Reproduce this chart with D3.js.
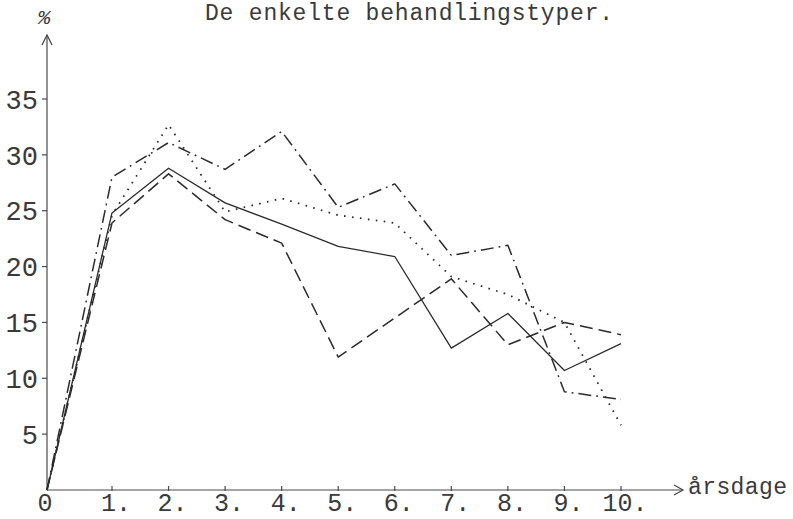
<!DOCTYPE html>
<html>
<head>
<meta charset="utf-8">
<script src="https://cdn.jsdelivr.net/npm/d3@7/dist/d3.min.js"></script>
<style>
  html, body { margin: 0; padding: 0; background: #fff; }
  svg { display: block; }
  text { font-family: "Liberation Mono", "DejaVu Sans Mono", monospace; fill: #3a3a3a; }
</style>
</head>
<body>
<svg id="chart" width="793" height="519"></svg>
<script>
// ---- data ----
const years = [0, 1, 2, 3, 4, 5, 6, 7, 8, 9, 10];
const xTickLabels = ["0", "1.", "2.", "3.", "4.", "5.", "6.", "7.", "8.", "9.", "10."];
const yTicks = [5, 10, 15, 20, 25, 30, 35];
const solidSeries   = [0, 24.8, 28.8, 25.7, 23.8, 21.8, 20.9, 12.7, 15.8, 10.7, 13.1];
const dashedSeries  = [0, 23.9, 28.3, 24.2, 22.1, 11.9, 15.4, 18.9, 13.0, 15.0, 13.9];
const dottedSeries  = [0, 24.6, 32.7, 24.9, 26.1, 24.6, 23.9, 19.1, 17.5, 15.0, 5.8];
const dashDotSeries = [0, 28.0, 31.1, 28.7, 32.1, 25.3, 27.4, 21.0, 21.9, 8.8, 8.1];
const title = "De enkelte behandlingstyper.";
const yAxisLabel = "%";
const xAxisLabel = "årsdage";

// ---- layout ----
const svg = d3.select("#chart");
const x = d3.scaleLinear().domain([0, 1, 10]).range([47, 112, 621]);
const y = d3.scaleLinear().domain([0, 35]).range([490, 99]);
const ink = "#2b2b2b";
const axisInk = "#4a4a4a";

// title
svg.append("text")
  .attr("x", 205).attr("y", 20)
  .attr("font-size", 23).attr("letter-spacing", 0.8)
  .text(title);

// y axis
svg.append("line")
  .attr("x1", x(0)).attr("x2", x(0)).attr("y1", y(0)).attr("y2", 36)
  .attr("stroke", axisInk).attr("stroke-width", 1.2);
svg.append("path")
  .attr("d", `M${x(0) - 5},45 L${x(0)},35 L${x(0) + 5},45`)
  .attr("fill", "none").attr("stroke", axisInk).attr("stroke-width", 1.3);
svg.append("text")
  .attr("x", 44).attr("y", 24).attr("text-anchor", "middle")
  .attr("font-size", 21).attr("font-style", "italic")
  .text(yAxisLabel);

// y ticks
const yt = svg.append("g");
yt.selectAll("line").data(yTicks).join("line")
  .attr("x1", x(0) - 5).attr("x2", x(0))
  .attr("y1", d => y(d)).attr("y2", d => y(d))
  .attr("stroke", axisInk).attr("stroke-width", 1.2);
yt.selectAll("text").data(yTicks).join("text")
  .attr("x", 38).attr("y", d => y(d)).attr("dy", "0.36em")
  .attr("text-anchor", "end").attr("font-size", 27)
  .text(d => d);

// x axis
svg.append("line")
  .attr("x1", x(0)).attr("x2", 682).attr("y1", y(0)).attr("y2", y(0))
  .attr("stroke", axisInk).attr("stroke-width", 1.2);
svg.append("path")
  .attr("d", `M674,${y(0) - 5} L683,${y(0)} L674,${y(0) + 5}`)
  .attr("fill", "none").attr("stroke", axisInk).attr("stroke-width", 1.3);
svg.append("text")
  .attr("x", 688).attr("y", 494)
  .attr("font-size", 23).attr("letter-spacing", 0.4)
  .text(xAxisLabel);

// x ticks
const xt = svg.append("g");
xt.selectAll("line").data(years.slice(1)).join("line")
  .attr("x1", d => x(d)).attr("x2", d => x(d))
  .attr("y1", y(0) - 4).attr("y2", y(0) + 1)
  .attr("stroke", axisInk).attr("stroke-width", 1.2);
xt.selectAll("text").data(years).join("text")
  .attr("x", d => d === 0 ? x(d) - 2 : x(d) + 4)
  .attr("y", 511)
  .attr("text-anchor", "middle").attr("font-size", 25)
  .text((d, i) => xTickLabels[i]);

// series
const line = d3.line().x((d, i) => x(years[i])).y(d => y(d));
const series = [
  { values: solidSeries,   dash: null,              width: 1.3 },
  { values: dashedSeries,  dash: "13,6",            width: 1.5 },
  { values: dottedSeries,  dash: "1.6,6.4",         width: 1.8 },
  { values: dashDotSeries, dash: "13,5,1.8,5",      width: 1.5 }
];
svg.append("g").selectAll("path").data(series).join("path")
  .attr("d", d => line(d.values))
  .attr("fill", "none")
  .attr("stroke", ink)
  .attr("stroke-width", d => d.width)
  .attr("stroke-dasharray", d => d.dash)
  .attr("stroke-linejoin", "round");
</script>
</body>
</html>
